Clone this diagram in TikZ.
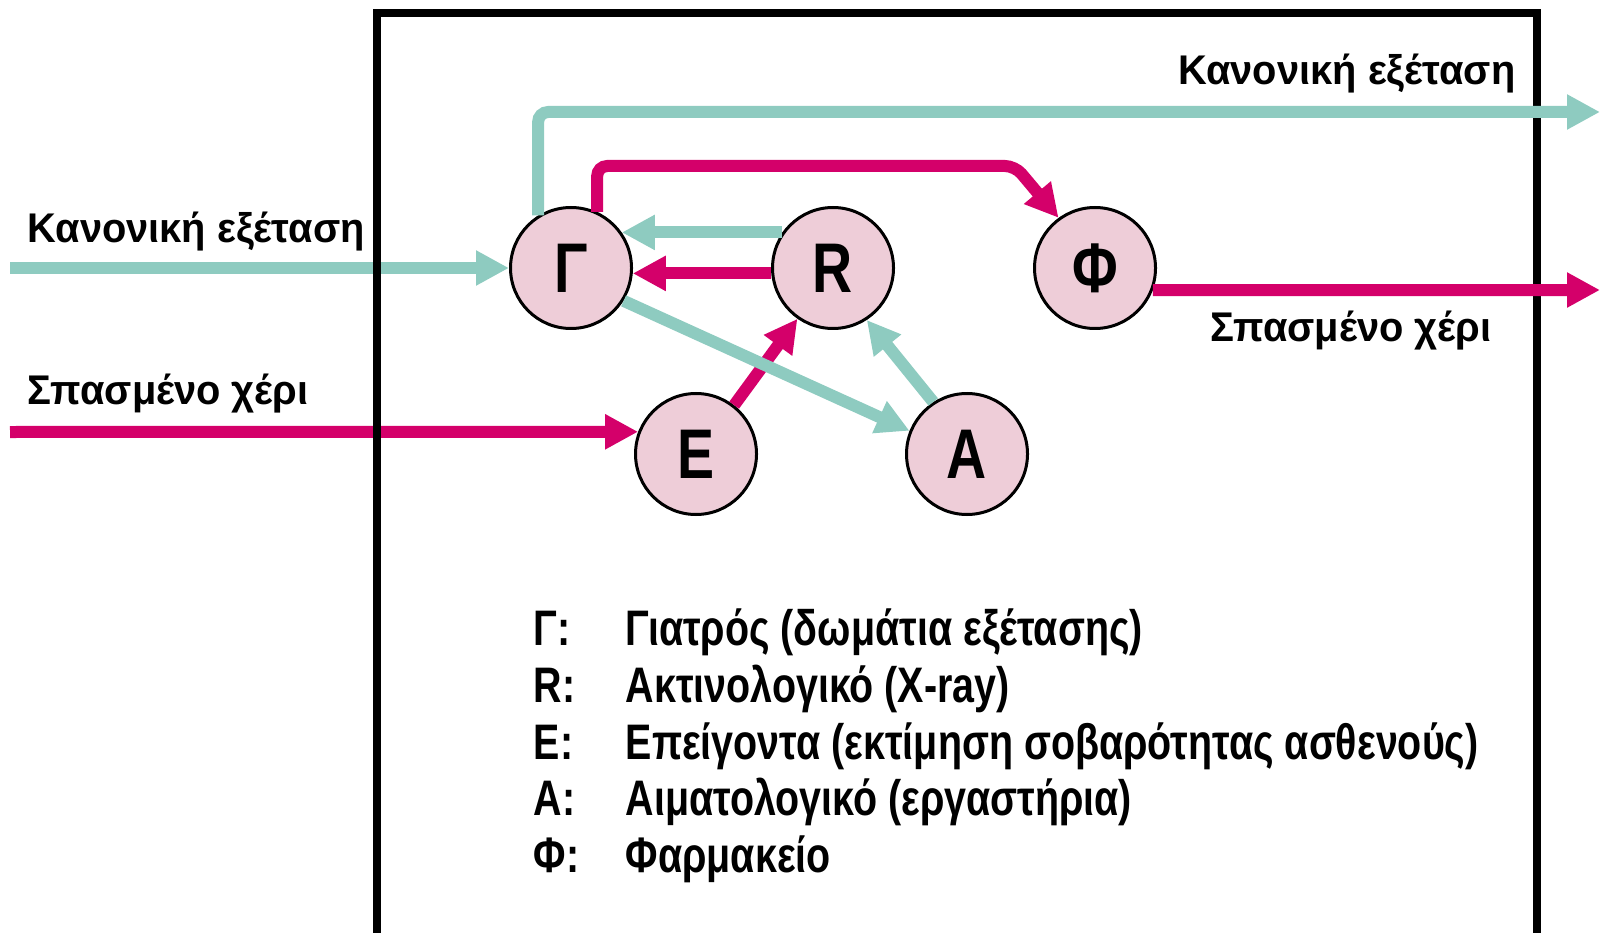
\documentclass[tikz,border=0pt]{standalone}
\usepackage{fontspec}
\setmainfont{Liberation Sans}
\newfontfamily\narrowfont{Liberation Sans}[FakeStretch=0.79]
\newfontfamily\labelfont{Liberation Sans}[FakeStretch=0.96]
\usetikzlibrary{arrows.meta}

\definecolor{flowteal}{RGB}{142,203,192}
\definecolor{flowpink}{RGB}{212,0,106}
\definecolor{roomfill}{RGB}{238,205,216}

\begin{document}
\begin{tikzpicture}[node distance={26.2mm},
	main/.style={draw, circle, line width=0.3mm, fill=roomfill, minimum size=12.1mm, inner sep=0pt, font=\narrowfont\bfseries\fontsize{20pt}{21pt}\selectfont},
	normal/.style={line width=1.2mm, flowteal, rounded corners=1mm, -{Triangle[length=3.3mm,width=3.3mm]}},
	broken/.style={line width=1.2mm, flowpink, rounded corners=1mm, -{Triangle[length=3.3mm,width=3.3mm]}},
	flowlabel/.style={font=\labelfont\bfseries\fontsize{11.8pt}{13pt}\selectfont, inner sep=0pt},
	legend/.style={font=\narrowfont\bfseries\fontsize{14.2pt}{16pt}\selectfont, inner sep=0pt, anchor=base west}]
		\useasboundingbox (0,0) rectangle (16,-9.33);

		\node[main] (G) at (5.71,-2.68) {Γ};
		\node[main] (R) [right of=G] {R};
		\node[main] (F) [right of=R] {Φ};
		\node[main] (E) at (6.96,-4.54) {E};
		\node[main] (A) [right of=E, node distance=27.1mm] {A};

		\coordinate (inK) at (0.10,-2.68);
		\coordinate (inS) at (0.10,-4.32);
		\coordinate (outK) at (16.0,-1.12);
		\coordinate (outS) at (16.0,-2.90);
		\coordinate (bend) at (10.15,-1.66);

		% patients coming in
		\draw[normal] (inK) -- (G);
		\draw[broken] (inS) -- (E.159);

		% the hospital
		\draw[line width=0.75mm] (3.77,-9.4) |- (15.37,-0.13) -- (15.37,-9.4);

		\draw[normal] (G.122) |- (outK);
		\draw[broken] (G.65) |- (bend) -- (F.126);
		\draw[broken] (F.-21) -- (outS);
		\draw[normal] (R.145) -- (G.35);
		\draw[broken] (R.185) -- (G.355);
		\draw[broken] (E.52) -- (R.235);
		\draw[normal] (G.-32) -- (A.158);
		\draw[normal] (A.123) -- (R.-57);

		\node[flowlabel, anchor=base west] (inKlabel) at (0.27,-2.43) {Κανονική εξέταση};
		\node[flowlabel, anchor=base west] (inSlabel) at (0.27,-4.04) {Σπασμένο χέρι};
		\node[flowlabel, anchor=base east] (outKlabel) at (15.16,-0.85) {Κανονική εξέταση};
		\node[flowlabel, anchor=base east] (outSlabel) at (14.92,-3.42) {Σπασμένο χέρι};

		% legend
		\node[legend] (keyG) at (5.33,-6.45) {Γ:};
		\node[legend] (txtG) at (6.25,-6.45) {Γιατρός (δωμάτια εξέτασης)};
		\node[legend] (keyR) at (5.33,-7.02) {R:};
		\node[legend] (txtR) at (6.25,-7.02) {Ακτινολογικό (X-ray)};
		\node[legend] (keyE) at (5.33,-7.59) {E:};
		\node[legend] (txtE) at (6.25,-7.59) {Επείγοντα (εκτίμηση σοβαρότητας ασθενούς)};
		\node[legend] (keyA) at (5.33,-8.15) {A:};
		\node[legend] (txtA) at (6.25,-8.15) {Αιματολογικό (εργαστήρια)};
		\node[legend] (keyF) at (5.33,-8.72) {Φ:};
		\node[legend] (txtF) at (6.25,-8.72) {Φαρμακείο};
	\end{tikzpicture}
\end{document}
